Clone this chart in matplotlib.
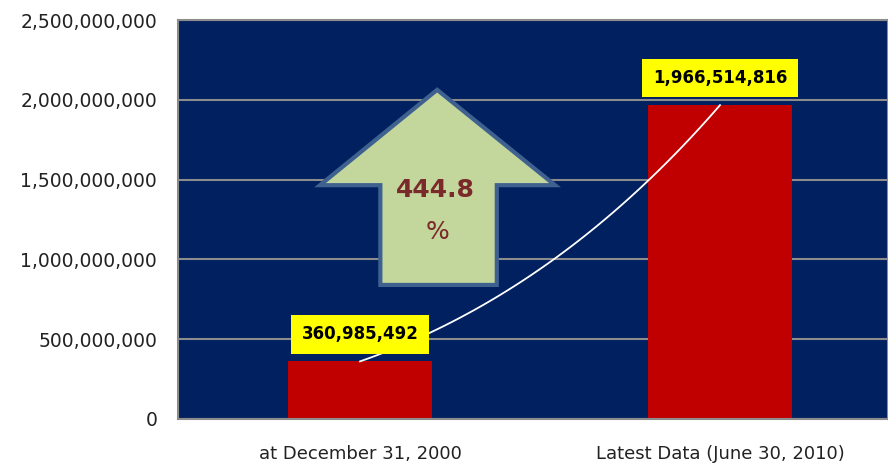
import numpy as np
import matplotlib
matplotlib.use("Agg")
import matplotlib.pyplot as plt
from matplotlib.patches import Polygon
from matplotlib.ticker import FuncFormatter

categories = ["at December 31, 2000", "Latest Data (June 30, 2010)"]
users = [360985492, 1966514816]
growth_pct = 444.8
y_ticks = [0, 500000000, 1000000000, 1500000000, 2000000000, 2500000000]

fig = plt.figure(figsize=(8.88, 4.68), dpi=100)
ax = fig.add_axes([178 / 888, 49 / 468, 710 / 888, 399 / 468])
ax.set_facecolor("#002060")

x = np.arange(len(categories))
ax.bar(x, users, width=0.4, color="#c00000", zorder=2)

ax.set_xlim(-182 / 360, 528 / 360)
ax.set_ylim(0, 2500000000)
ax.set_yticks(y_ticks)
ax.yaxis.set_major_formatter(FuncFormatter(lambda v, p: f"{int(v):,}"))
ax.set_xticks(x)
ax.set_xticklabels(categories)
ax.tick_params(axis="y", length=0, pad=15, labelsize=13.5, labelcolor="#222222")
ax.tick_params(axis="x", length=0, pad=19, labelsize=13, labelcolor="#222222")
ax.grid(axis="y", color="#8c8c8c", linewidth=1.5, zorder=1)
for s in ax.spines.values():
    s.set_color("#8c8c8c")
    s.set_linewidth(1.5)

# curved growth line between bar tops (quadratic bezier)
t = np.linspace(0, 1, 100)
cx = 0.55
cy = users[0] + 0.27 * (users[1] - users[0])
bx = 2 * t * (1 - t) * cx + t ** 2 * x[1]
by = (1 - t) ** 2 * users[0] + 2 * t * (1 - t) * cy + t ** 2 * users[1]
ax.plot(bx, by, color="white", linewidth=1.3, zorder=3)

# value labels
for xi, v in zip(x, users):
    ax.annotate(f"{v:,}", (xi, v), xytext=(0, 13), textcoords="offset points",
                ha="center", va="bottom", fontsize=12, fontweight="bold",
                color="black", zorder=5,
                bbox=dict(boxstyle="square,pad=0.62", fc="#ffff00", ec="none"))

# big up arrow with growth percentage
arrow = Polygon([(0.365, 0.825), (0.531, 0.586), (0.449, 0.586), (0.449, 0.336),
                 (0.285, 0.336), (0.285, 0.586), (0.200, 0.586)],
                closed=True, transform=ax.transAxes, facecolor="#c3d69b",
                edgecolor="#3f6190", linewidth=3, joinstyle="miter", zorder=4)
ax.add_patch(arrow)
ax.text(0.363, 0.574, f"{growth_pct}", transform=ax.transAxes, ha="center",
        va="center", fontsize=18, fontweight="bold", color="#7a2a2a", zorder=5)
ax.text(0.365, 0.469, "%", transform=ax.transAxes, ha="center",
        va="center", fontsize=18, color="#7a2a2a", zorder=5)

fig.savefig("out.png", dpi=100)
